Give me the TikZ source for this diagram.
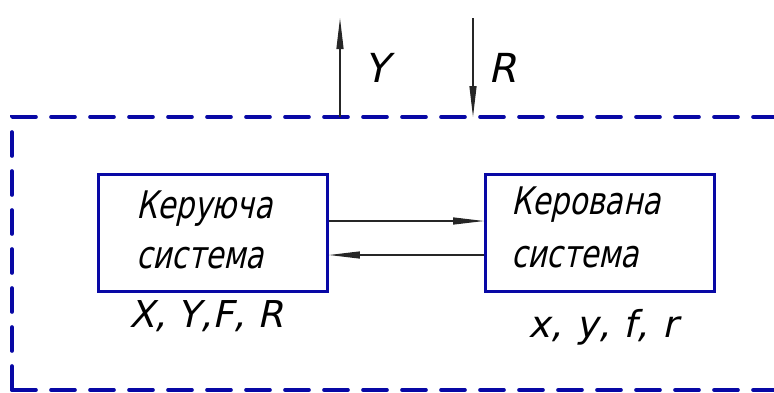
\documentclass[tikz,border=0pt]{standalone}
\usepackage{fontspec}
\setmainfont{DejaVu Sans}[FakeSlant=0.22]
\newfontfamily\narrowfont{DejaVu Sans}[FakeSlant=0.22,FakeStretch=0.78]
\usetikzlibrary{arrows.meta}
\definecolor{frameblue}{RGB}{8,8,165}
\begin{document}
\begin{tikzpicture}[x=1pt,y=-1pt,
  dashframe/.style={draw=frameblue,line width=3.6pt,line cap=round,dash pattern=on 24pt off 15pt},
  sysbox/.style={draw=frameblue,line width=2.8pt,minimum width=229pt,minimum height=117pt,inner sep=0pt},
  link/.style={draw=black!85,line width=1.2pt,-{Triangle[length=31pt,width=7pt]}},
  boxtext/.style={anchor=base west,inner sep=0pt,font=\narrowfont\fontsize{38}{38}\selectfont},
  vartext/.style={anchor=base,inner sep=0pt,font=\fontsize{37}{37}\selectfont},
  sigtext/.style={anchor=base west,inner sep=0pt,font=\fontsize{40}{40}\selectfont}]
\useasboundingbox (0,0) rectangle (774,392);

% system boundary (dashed frame, open to the right)
\draw[dashframe] (12,390) -- (12,117) -- (800,117);
\draw[dashframe] (12,390) -- (800,390);

% controlling and controlled systems
\node[sysbox] (ctrl) at (213,233) {};
\node[sysbox] (obj) at (600,233) {};

\node[boxtext] (ctrl1) at (136,218) {Керуюча};
\node[boxtext] (ctrl2) at (136,268) {система};
\node[boxtext] (obj1) at (511,214) {Керована};
\node[boxtext] (obj2) at (511,267) {система};

\node[vartext] (ctrlvars) at (206,327) {X, Y,F, R};
\node[vartext] (objvars) at (603,337) {x,\kern2pt{} y,\kern2pt{} f,\kern2pt{} r};

% links between the two systems
\draw[link] (ctrl.east |- 0,221) -- (obj.west |- 0,221);
\draw[link] (obj.west |- 0,255) -- (ctrl.east |- 0,255);

% output and reference signals across the boundary
\coordinate (ybase) at (340,117);
\coordinate (ytop) at (340,18);
\coordinate (rtop) at (473,18);
\coordinate (rbase) at (473,117);
\draw[link] (ybase) -- (ytop);
\draw[link] (rtop) -- (rbase);
\node[sigtext] (ylab) at (364,82) {Y};
\node[sigtext] (rlab) at (488,82) {R};
\end{tikzpicture}
\end{document}
